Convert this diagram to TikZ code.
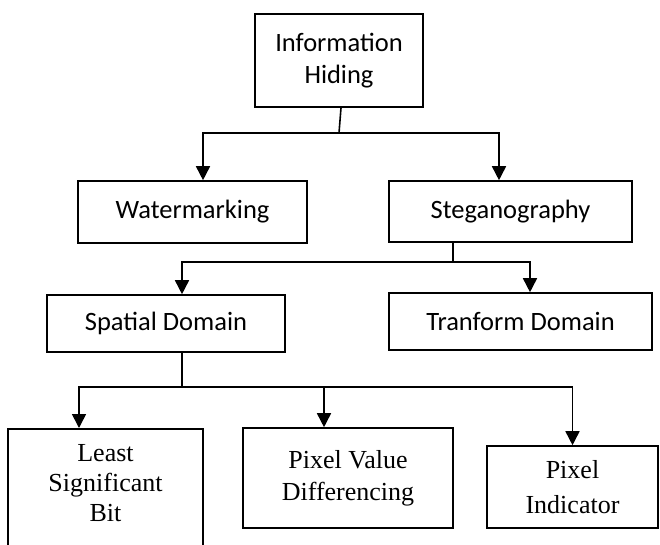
\documentclass[tikz,border=0pt]{standalone}
\usepackage{fontspec}
\setmainfont{Liberation Serif}
\newfontfamily\calfont{Carlito}
\usetikzlibrary{arrows.meta}
\tikzset{
  bx/.style={draw=black, line width=1.6pt, rectangle, inner sep=0pt, align=center, fill=white},
  sansbox/.style={bx, font=\calfont\fontsize{26.5}{32}\selectfont},
  serifbox/.style={bx, font=\fontsize{26}{31}\selectfont},
  seriftext/.style={inner sep=0pt, align=center, font=\fontsize{26}{30}\selectfont},
  conn/.style={line width=1.6pt, draw=black},
  arr/.style={conn, -{Triangle[width=14pt,length=14pt]}}
}
\begin{document}
\begin{tikzpicture}[x=1pt,y=-1pt]
\useasboundingbox (0,0) rectangle (660,544);
\fill[white] (0,0) rectangle (660,544);
\begin{scope}
\clip (0,0) rectangle (660,544);
% boxes
\node[sansbox, minimum width=168pt, minimum height=93pt] (info) at (339,60.5) {Information\\Hiding};
\node[sansbox, minimum width=229pt, minimum height=62pt] (wm) at (192.5,212) {Watermarking};
\node[sansbox, minimum width=243pt, minimum height=61pt] (steg) at (510.5,211.5) {Steganography};
\node[sansbox, minimum width=238pt, minimum height=57pt] (spat) at (166,323.5) {Spatial Domain};
\node[sansbox, minimum width=263pt, minimum height=57pt] (tran) at (520.5,321.5) {Tranform Domain};
\node[bx, minimum width=195pt, minimum height=130pt, anchor=north] (lsb) at (105.5,428) {};
\node[seriftext, anchor=north] (lsbt) at ([yshift=-16pt]lsb.north) {Least\\Significant\\Bit};
\node[serifbox, font=\fontsize{26}{32}\selectfont, minimum width=210pt, minimum height=100pt] (pvd) at (348,478) {Pixel Value\\Differencing};
\node[serifbox, font=\fontsize{26}{35}\selectfont, minimum width=171pt, minimum height=82pt] (pi) at (572.5,487) {Pixel\\Indicator};
% junctions
\coordinate (j1) at (339,133);
\coordinate (j2) at (453,262);
\coordinate (j3) at (182,387);
% connectors
\draw[conn] ([xshift=2pt]info.south) -- (j1);
\draw[arr] (j1) -| ([xshift=10.5pt]wm.north);
\draw[arr] (j1) -| ([xshift=-11.5pt]steg.north);
\draw[conn] ([xshift=-57.5pt]steg.south) -- (j2);
\draw[arr] (j2) -| ([xshift=16pt]spat.north);
\draw[arr] (j2) -| ([xshift=9.5pt]tran.north);
\draw[conn] ([xshift=16pt]spat.south) -- (j3);
\draw[arr] (j3) -| ([xshift=-26.5pt]lsb.north);
\draw[arr] (j3) -| ([xshift=-24pt]pvd.north);
\draw[arr] (j3) -| (pi.north);
\end{scope}
\end{tikzpicture}
\end{document}
